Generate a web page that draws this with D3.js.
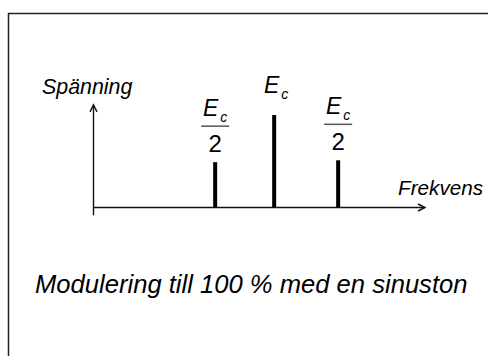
<!DOCTYPE html>
<html>
<head>
<meta charset="utf-8">
<script src="https://cdn.jsdelivr.net/npm/d3@7"></script>
<style>
  html, body { margin: 0; padding: 0; background: #fff; }
  svg { display: block; font-family: Arial, 'Liberation Sans', sans-serif; }
</style>
</head>
<body>
<div id="chart"></div>
<script>
// spectrum lines: lower sideband, carrier, upper sideband
const freqs = [3.67, 5.45, 7.38];
const amps = [0.49, 1.0, 0.51];
const labels = ['Ec/2', 'Ec', 'Ec/2'];

const yTitle = 'Spänning';
const xTitle = 'Frekvens';
const caption = 'Modulering till 100 % med en sinuston';

const width = 488;
const height = 356;

const svg = d3.select('#chart')
  .append('svg')
  .attr('width', width)
  .attr('height', height);

// outer frame (right/bottom edges run off the picture)
svg.append('rect')
  .attr('x', 8.5)
  .attr('y', 13.5)
  .attr('width', 600)
  .attr('height', 600)
  .attr('fill', 'none')
  .attr('stroke', '#222')
  .attr('stroke-width', 1.5);

const x = d3.scaleLinear().domain([0, 10]).range([93.5, 425]);
const y = d3.scaleLinear().domain([0, 1]).range([207.5, 115]);

const axes = svg.append('g')
  .attr('stroke', '#111')
  .attr('stroke-width', 1.4)
  .attr('fill', 'none');

// y axis with arrow
const yTop = y(1.11);
axes.append('line')
  .attr('x1', x(0)).attr('x2', x(0))
  .attr('y1', y(-0.085)).attr('y2', yTop);
axes.append('path')
  .attr('d', `M${x(0) - 3.5},${yTop + 7}L${x(0)},${yTop}L${x(0) + 3.5},${yTop + 7}`);

// x axis with arrow
const xEnd = x(10);
axes.append('line')
  .attr('x1', x(0)).attr('x2', xEnd)
  .attr('y1', y(0)).attr('y2', y(0));
axes.append('path')
  .attr('d', `M${xEnd - 7},${y(0) - 3.5}L${xEnd},${y(0)}L${xEnd - 7},${y(0) + 3.5}`);

// spectral lines
svg.selectAll('.bar')
  .data(freqs)
  .enter()
  .append('line')
  .attr('class', 'bar')
  .attr('x1', d => x(d)).attr('x2', d => x(d))
  .attr('y1', y(0))
  .attr('y2', (d, i) => y(amps[i]))
  .attr('stroke', '#000')
  .attr('stroke-width', 4);

// labels above each line
freqs.forEach((f, i) => {
  const cx = x(f);
  const top = y(amps[i]);
  const g = svg.append('g');
  if (labels[i] === 'Ec') {
    const t = g.append('text')
      .attr('x', cx + 2)
      .attr('y', top - 22)
      .attr('text-anchor', 'middle')
      .attr('font-style', 'italic')
      .attr('font-size', 23);
    t.append('tspan').text('E');
    t.append('tspan').attr('font-size', 14).attr('dy', 6).attr('dx', 2).text('c');
  } else {
    const lineY = top - 36;
    const t = g.append('text')
      .attr('x', cx)
      .attr('y', lineY - 10)
      .attr('text-anchor', 'middle')
      .attr('font-style', 'italic')
      .attr('font-size', 23);
    t.append('tspan').text('E');
    t.append('tspan').attr('font-size', 14).attr('dy', 6).attr('dx', 2).text('c');
    g.append('line')
      .attr('x1', cx - 14).attr('x2', cx + 14)
      .attr('y1', lineY).attr('y2', lineY)
      .attr('stroke', '#555')
      .attr('stroke-width', 1.5);
    g.append('text')
      .attr('x', cx)
      .attr('y', lineY + 26)
      .attr('text-anchor', 'middle')
      .attr('font-size', 24)
      .text('2');
  }
});

svg.append('text')
  .attr('x', 42)
  .attr('y', 94)
  .attr('font-style', 'italic')
  .attr('font-size', 21.4)
  .text(yTitle);

svg.append('text')
  .attr('x', 398)
  .attr('y', 195)
  .attr('font-style', 'italic')
  .attr('font-size', 20.7)
  .text(xTitle);

svg.append('text')
  .attr('x', 35)
  .attr('y', 293)
  .attr('font-style', 'italic')
  .attr('font-size', 25.6)
  .text(caption);
</script>
</body>
</html>
